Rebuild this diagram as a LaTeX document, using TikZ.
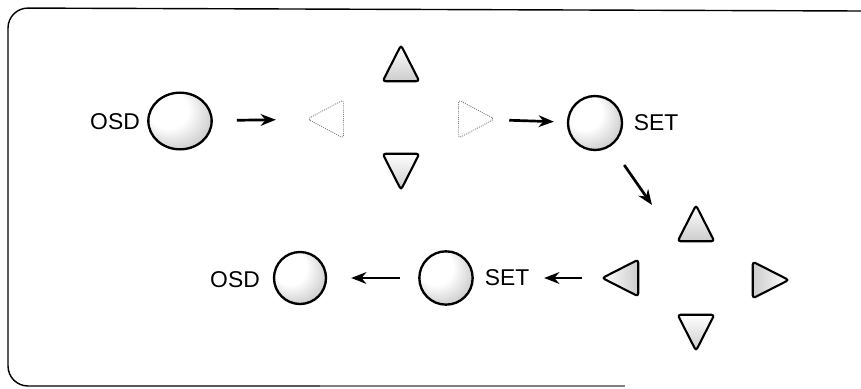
\documentclass[tikz,border=0pt]{standalone}
\usepackage{fontspec}
\setmainfont{Liberation Sans}
\usetikzlibrary{shapes.geometric,arrows.meta}

\pgfdeclareradialshading{knobshade}{\pgfpoint{-14bp}{14bp}}{color(0bp)=(white); color(16bp)=(white); color(34bp)=(gray!45); color(50bp)=(gray!80)}

\tikzset{
  lbl/.style={inner sep=0pt, font=\fontsize{19.5}{23}\selectfont},
  knob/.style={ellipse, draw, line width=2pt, shading=knobshade, inner sep=0pt, minimum width=#1, minimum height=#1},
  key/.style={isosceles triangle, isosceles triangle stretches, draw, line width=1.8pt, rounded corners=2.5pt, inner sep=0pt, minimum width=1.1cm, minimum height=1.08cm, top color=white, bottom color=gray!40, shape border rotate=#1},
  ghost/.style={isosceles triangle, isosceles triangle stretches, draw=gray, densely dotted, line width=0.8pt, rounded corners=2.5pt, inner sep=0pt, minimum width=1.15cm, minimum height=1.08cm, shape border rotate=#1},
  flow/.style={line width=2.3pt, -{Stealth[length=13pt, width=10pt]}}
}

\begin{document}
\begin{tikzpicture}[x=0.03cm, y=-0.03cm]
  \useasboundingbox (0,0) rectangle (861,388);

  % frame
  \draw[line width=1.2pt, rounded corners=0.6cm] (320,386) -- (8,386) -- (8,8) -- (861,11);
  \draw[line width=0.9pt, gray] (320,386) -- (625,386);

  % upper row
  \node[lbl] (osdtxtA) at (115,122) {OSD};
  \node[knob=1.7cm, minimum width=1.9cm] (osdA) at (180,121) {};
  \node[ghost=180] (leftA) at (332,119) {};
  \node[key=90] (upA) at (401,70) {};
  \node[key=270] (downA) at (401,165) {};
  \node[ghost=0] (rightA) at (470,119) {};
  \node[knob=1.62cm] (setA) at (595,123) {};
  \node[lbl] (settxtA) at (656,123) {SET};

  % lower row
  \node[lbl] (osdtxtB) at (235,280) {OSD};
  \node[knob=1.56cm] (osdB) at (300,278) {};
  \node[knob=1.6cm] (setB) at (446,278) {};
  \node[lbl] (settxtB) at (507,278) {SET};
  \node[key=180, shading angle=90] (leftB) at (627,278) {};
  \node[key=90] (upB) at (696,230) {};
  \node[key=0, shading angle=-90] (rightB) at (764,280) {};
  \node[key=270] (downB) at (696,326) {};

  % arrows
  \coordinate (diagend) at (652,205);
  \draw[flow, shorten <=0.72cm, shorten >=0.93cm] (osdA) -- (leftA);
  \draw[flow, shorten <=0.45cm, shorten >=0.39cm] (rightA) -- (setA);
  \draw[flow, shorten <=0.69cm] (setA) -- (diagend);
  \draw[flow, shorten <=0.51cm, shorten >=0.44cm] (leftB) -- (settxtB);
  \draw[flow, shorten <=0.54cm, shorten >=0.72cm] (setB) -- (osdB);
\end{tikzpicture}
\end{document}
